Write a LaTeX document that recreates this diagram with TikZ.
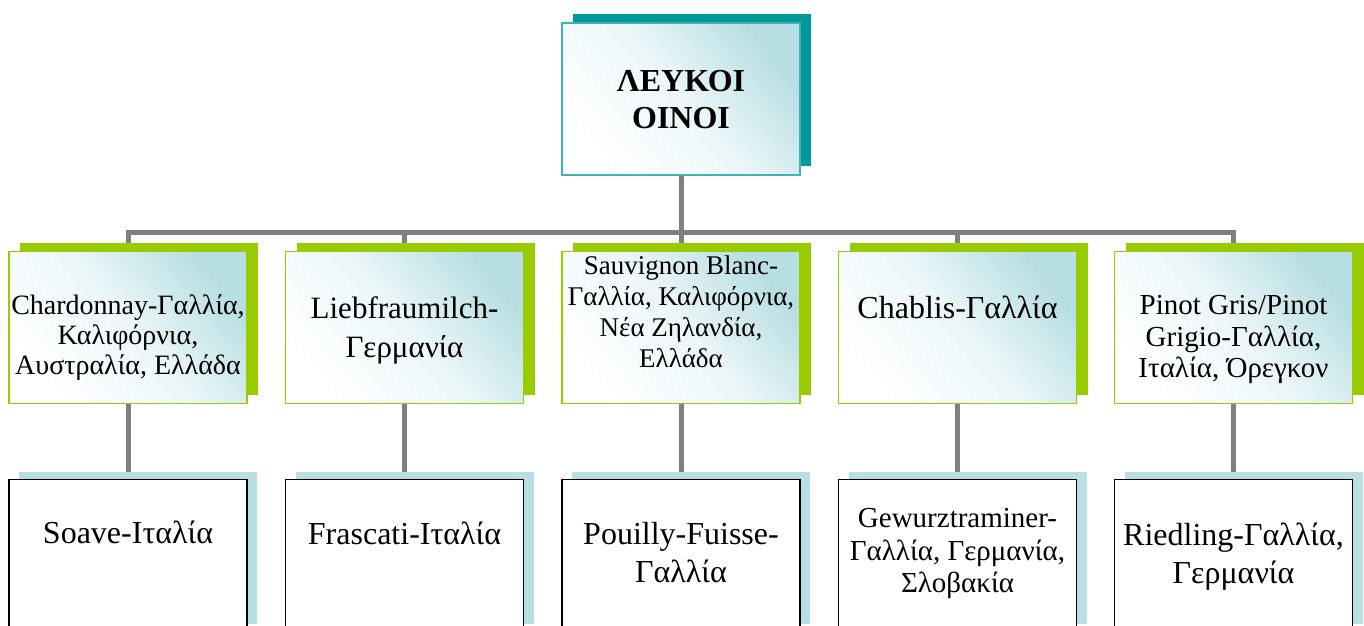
\documentclass[tikz,border=0pt]{standalone}
\usepackage{fontspec}
\setmainfont{Liberation Serif}
\usetikzlibrary{shadows}
\usetikzlibrary{backgrounds}

\definecolor{leafgreen}{RGB}{153,204,0}
\definecolor{deepteal}{RGB}{0,153,153}
\definecolor{paleteal}{RGB}{183,222,226}
\definecolor{palecyan}{RGB}{184,223,225}
\definecolor{linkgray}{RGB}{128,128,128}

% text block hung from the top of a cell
\newcommand{\celltext}[2]{\parbox[c][150pt][t]{236pt}{\centering\vspace*{#1}#2\par}}

\tikzset{
  cell/.style={minimum width=238pt, minimum height=151pt, inner sep=1pt},
  glossy/.style={cell, top color=paleteal, bottom color=white, middle color=white!75!paleteal, shading angle=-50, line width=1.5pt},
  rootcell/.style={glossy, draw=deepteal!75, general shadow={fill=deepteal, shadow xshift=11pt, shadow yshift=9pt}},
  midcell/.style={glossy, draw=leafgreen, general shadow={fill=leafgreen, shadow xshift=11pt, shadow yshift=9pt}},
  lowcell/.style={cell, fill=white, draw=black, line width=1.5pt, general shadow={fill=palecyan, shadow xshift=10pt, shadow yshift=8pt}},
  link/.style={draw=linkgray, line width=5pt}
}

\begin{document}
\begin{tikzpicture}[x=1pt, y=-1pt]
\useasboundingbox (0,0) rectangle (1364,625);
\clip (0,0) rectangle (1364,625);

\node[rootcell, font=\fontsize{32}{37}\selectfont\bfseries] (root) at (681,99)
  {\celltext{46pt}{ΛΕΥΚΟΙ\\ΟΙΝΟΙ}};

% second row
\node[midcell, font=\fontsize{28}{30}\selectfont] (m1) at (128,327.5)
  {\celltext{42pt}{Chardonnay-Γαλλία,\\Καλιφόρνια,\\Αυστραλία, Ελλάδα}};
\node[midcell, font=\fontsize{31}{39}\selectfont] (m2) at (404.5,327.5)
  {\celltext{44pt}{Liebfraumilch-\\Γερμανία}};
\node[midcell, font=\fontsize{27}{31}\selectfont] (m3) at (681,327.5)
  {\celltext{3pt}{Sauvignon Blanc-\\Γαλλία, Καλιφόρνια,\\Νέα Ζηλανδία,\\Ελλάδα}};
\node[midcell, font=\fontsize{32}{38}\selectfont] (m4) at (957.5,327.5)
  {\celltext{43pt}{Chablis-Γαλλία}};
\node[midcell, font=\fontsize{29}{31.5}\selectfont] (m5) at (1233.5,327.5)
  {\celltext{43pt}{Pinot Gris/Pinot\\Grigio-Γαλλία,\\Ιταλία, Όρεγκον}};

% third row
\node[lowcell, font=\fontsize{32}{38}\selectfont] (b1) at (128,555.5)
  {\celltext{40pt}{Soave-Ιταλία}};
\node[lowcell, font=\fontsize{32}{38}\selectfont] (b2) at (404.5,555.5)
  {\celltext{41pt}{Frascati-Ιταλία}};
\node[lowcell, font=\fontsize{32}{38}\selectfont] (b3) at (681,555.5)
  {\celltext{42pt}{Pouilly-Fuisse-\\Γαλλία}};
\node[lowcell, font=\fontsize{29}{32.5}\selectfont] (b4) at (957.5,555.5)
  {\celltext{28pt}{Gewurztraminer-\\Γαλλία, Γερμανία,\\Σλοβακία}};
\node[lowcell, font=\fontsize{32}{38}\selectfont] (b5) at (1233.5,555.5)
  {\celltext{42pt}{Riedling-Γαλλία,\\Γερμανία}};

\begin{scope}[on background layer]
\draw[link] (root.south) -- ++(0,57) coordinate (bar);
\foreach \i in {1,...,5} {
  \draw[link] (bar) -| (m\i.north);
  \draw[link] (m\i.south) -- (b\i.north);
}
\end{scope}
\end{tikzpicture}
\end{document}
